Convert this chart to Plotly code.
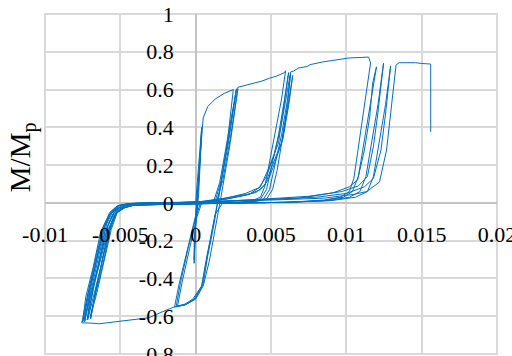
import plotly.graph_objects as go

# ---- data ----
# initial elastic cycles + virgin loading to first yield
elastic_x = [0.0, 0.0002, 0.0004, 0.0002, 0.0000, -0.0001, 0.0000, 0.0002, 0.0004, 0.0002, -0.0001, -0.0001, 0.0000, 0.0002,
             0.0005, 0.0008, 0.0013, 0.0019, 0.0025]
elastic_y = [0.0, 0.20, 0.40, 0.12, -0.05, -0.30, -0.12, 0.10, 0.38, 0.05, -0.20, -0.32, -0.10, 0.15,
             0.45, 0.51, 0.55, 0.58, 0.60]

# small cycles (about +0.0027 / -0.0013)
small_x = [0.0021, 0.0016, 0.00146, 0.0011, 0.0007, 0.0004, -0.0001, -0.0007, -0.0013,
           -0.0010, -0.0005, 0.0000, 0.0003, 0.0008, 0.0013, 0.0017, 0.0022, 0.0027,
           0.0022, 0.0016, 0.0012, 0.0008, 0.0005, 0.0000, -0.0006, -0.0012,
           -0.0009, -0.0004, 0.0001, 0.0004, 0.0009, 0.0014, 0.0018, 0.0023, 0.0028,
           0.0023, 0.0017, 0.0013, 0.0009, 0.0005, 0.0000, -0.0007, -0.0014,
           -0.0011, -0.0006, -0.0001, 0.0002, 0.0007, 0.0012, 0.0016, 0.0021, 0.0027]
small_y = [0.32, 0.06, 0.0, -0.14, -0.30, -0.44, -0.51, -0.54, -0.55,
           -0.42, -0.24, -0.08, -0.005, 0.005, 0.01, 0.12, 0.35, 0.60,
           0.33, 0.07, -0.12, -0.28, -0.43, -0.505, -0.535, -0.545,
           -0.42, -0.24, -0.07, 0.0, 0.006, 0.012, 0.12, 0.34, 0.605,
           0.32, 0.04, -0.14, -0.31, -0.44, -0.51, -0.54, -0.55,
           -0.43, -0.26, -0.09, 0.0, 0.005, 0.01, 0.11, 0.33, 0.60]

# first excursion to +0.006 along envelope, then first negative excursion along envelope
first_x = [0.0028, 0.0033, 0.0038, 0.0044, 0.0049, 0.0054, 0.0059, 0.00597,
           0.0057, 0.0053, 0.0049, 0.0046, 0.0043, 0.0037, 0.0028, 0.0018,
           0.0013, 0.0011, 0.0007, 0.0004, -0.0002, -0.0008, -0.0015, -0.0021, -0.0026,
           -0.0031, -0.0038, -0.0046, -0.0055, -0.0064, -0.0070, -0.00756]
first_y = [0.612, 0.622, 0.635, 0.645, 0.66, 0.672, 0.69, 0.70,
           0.55, 0.38, 0.20, 0.09, 0.03, 0.01, 0.003, 0.0,
           -0.06, -0.14, -0.32, -0.44, -0.51, -0.54, -0.553, -0.571, -0.59,
           -0.608, -0.615, -0.624, -0.632, -0.640, -0.636, -0.635]

# second +0.006 loop and its negative half
loop2_x = [-0.0071, -0.0066, -0.0061, -0.0057, -0.0052, -0.0045, -0.0030, -0.0010, 0.0005, 0.0023, 0.0036, 0.0043,
           0.0048, 0.0055, 0.0059, 0.00617,
           0.0059, 0.0055, 0.0050, 0.0047, 0.0043, 0.0035, 0.0020, 0.0000, -0.0025, -0.0040, -0.0047, -0.0053,
           -0.0058, -0.0064, -0.0070, -0.00737]
loop2_y = [-0.46, -0.28, -0.12, -0.05, -0.015, -0.004, 0.0, 0.002, 0.006, 0.03, 0.048, 0.085,
           0.175, 0.317, 0.53, 0.69,
           0.55, 0.36, 0.17, 0.07, 0.02, 0.005, 0.0, -0.003, -0.006, -0.01, -0.025, -0.055,
           -0.14, -0.33, -0.50, -0.63]

# third +0.006 loop
loop3_x = [-0.0070, -0.0065, -0.0060, -0.0056, -0.0051, -0.0044, -0.0028, 0.0000, 0.0015, 0.0030, 0.0040, 0.0046,
           0.0050, 0.0057, 0.0061, 0.0063,
           0.0061, 0.0057, 0.0052, 0.0049, 0.0045, 0.0036, 0.0020, 0.0000, -0.0025, -0.0042, -0.0049, -0.0054,
           -0.0058, -0.0063, -0.0068, -0.00717]
loop3_y = [-0.46, -0.28, -0.12, -0.05, -0.015, -0.004, 0.0, 0.002, 0.012, 0.035, 0.055, 0.095,
           0.18, 0.32, 0.52, 0.685,
           0.55, 0.36, 0.17, 0.07, 0.02, 0.004, 0.0, -0.004, -0.007, -0.012, -0.03, -0.06,
           -0.15, -0.34, -0.50, -0.62]

# fourth +0.006 loop
loop4_x = [-0.0068, -0.0063, -0.0058, -0.0054, -0.0049, -0.0042, -0.0025, 0.0000, 0.0020, 0.0035, 0.0043, 0.0048,
           0.0052, 0.0058, 0.0062, 0.00644,
           0.0062, 0.0058, 0.0054, 0.0051, 0.0047, 0.0038, 0.0020, 0.0000, -0.0025, -0.0041, -0.0048, -0.0053,
           -0.0057, -0.0062, -0.0067, -0.00697]
loop4_y = [-0.46, -0.28, -0.12, -0.05, -0.015, -0.004, 0.0, 0.003, 0.02, 0.045, 0.07, 0.12,
           0.20, 0.34, 0.53, 0.675,
           0.55, 0.36, 0.17, 0.07, 0.02, 0.004, 0.0, -0.004, -0.007, -0.011, -0.028, -0.058,
           -0.15, -0.34, -0.50, -0.614]

# loading beyond +0.006 along the upper envelope to +0.0115
env_x = [-0.0066, -0.0061, -0.0056, -0.0052, -0.0047, -0.0040, -0.0022, 0.0000, 0.0020, 0.0033, 0.0042, 0.0047,
         0.0052, 0.0057, 0.0061, 0.0063, 0.0065, 0.00683, 0.0074, 0.0076, 0.00843, 0.0092, 0.01015, 0.0110,
         0.01148, 0.01161,
         0.0112, 0.0108, 0.0105, 0.0102, 0.0096, 0.0085, 0.0065, 0.0040, 0.0010, -0.0020, -0.0040, -0.0047,
         -0.0052, -0.0056, -0.0061, -0.0066, -0.0070]
env_y = [-0.45, -0.27, -0.11, -0.045, -0.013, -0.003, 0.0, 0.004, 0.025, 0.05, 0.08, 0.14,
         0.25, 0.42, 0.60, 0.693, 0.698, 0.714, 0.722, 0.732, 0.746, 0.755, 0.767, 0.770,
         0.772, 0.741,
         0.52, 0.30, 0.13, 0.06, 0.03, 0.015, 0.005, 0.0, -0.004, -0.007, -0.01, -0.025,
         -0.05, -0.14, -0.32, -0.49, -0.605]

# loops to about +0.012 .. +0.013
big1_x = [-0.0066, -0.0061, -0.0056, -0.0052, -0.0047, -0.0040, -0.0020, 0.0010, 0.0040, 0.0069, 0.0091, 0.0102,
          0.01075, 0.0112, 0.01155, 0.01175, 0.0120,
          0.0116, 0.0112, 0.0108, 0.0104, 0.0098, 0.0085, 0.0060, 0.0030, 0.0000, -0.0025, -0.0043, -0.0050,
          -0.0055, -0.0060, -0.0065, -0.0070, -0.0072]
big1_y = [-0.45, -0.27, -0.11, -0.045, -0.013, -0.003, 0.0, 0.005, 0.015, 0.025, 0.053, 0.085,
          0.122, 0.28, 0.455, 0.635, 0.72,
          0.52, 0.32, 0.14, 0.06, 0.03, 0.012, 0.003, 0.0, -0.004, -0.008, -0.012, -0.03,
          -0.06, -0.15, -0.34, -0.50, -0.62]

big2_x = [-0.0068, -0.0063, -0.0058, -0.0054, -0.0049, -0.0042, -0.0020, 0.0010, 0.0045, 0.0075, 0.0097, 0.0108,
          0.0114, 0.0118, 0.0121, 0.0123, 0.01247,
          0.0121, 0.0117, 0.0113, 0.0109, 0.0102, 0.0088, 0.0060, 0.0030, 0.0000, -0.0025, -0.0045, -0.0052,
          -0.0057, -0.0062, -0.0067, -0.0072, -0.0074]
big2_y = [-0.45, -0.27, -0.11, -0.045, -0.013, -0.003, 0.0, 0.006, 0.02, 0.035, 0.06, 0.09,
          0.14, 0.30, 0.48, 0.64, 0.74,
          0.52, 0.32, 0.14, 0.06, 0.03, 0.012, 0.003, 0.0, -0.004, -0.008, -0.012, -0.03,
          -0.06, -0.15, -0.34, -0.50, -0.625]

big3_x = [-0.0069, -0.0064, -0.0059, -0.0055, -0.0050, -0.0043, -0.0020, 0.0010, 0.0050, 0.0080, 0.0100, 0.0112,
          0.0118, 0.0123, 0.0126, 0.0128, 0.01294,
          0.0126, 0.0122, 0.0118, 0.0114, 0.0106, 0.0090, 0.0060, 0.0030, 0.0000, -0.0025, -0.0045, -0.0052,
          -0.0057, -0.0063, -0.0068, -0.0073, -0.0075]
big3_y = [-0.45, -0.27, -0.11, -0.045, -0.013, -0.003, 0.0, 0.006, 0.02, 0.03, 0.05, 0.085,
          0.13, 0.28, 0.47, 0.63, 0.725,
          0.52, 0.32, 0.14, 0.06, 0.03, 0.012, 0.003, 0.0, -0.004, -0.008, -0.012, -0.03,
          -0.06, -0.15, -0.34, -0.50, -0.63]

# final loading to fracture
final_x = [-0.0070, -0.0065, -0.0060, -0.0056, -0.0051, -0.0044, -0.0020, 0.0010, 0.0050, 0.0085, 0.0105, 0.01135,
           0.0122, 0.01267, 0.0130, 0.0132, 0.0133, 0.0135, 0.0140, 0.0146, 0.0150, 0.01546, 0.0156, 0.0156]
final_y = [-0.45, -0.27, -0.11, -0.045, -0.013, -0.003, 0.0, 0.006, 0.015, 0.025, 0.045, 0.06,
           0.11, 0.28, 0.51, 0.66, 0.73, 0.742, 0.742, 0.742, 0.738, 0.735, 0.735, 0.376]

x_ticks = [-0.01, -0.005, 0, 0.005, 0.01, 0.015, 0.02]
x_labels = ["-0.01", "-0.005", "0", "0.005", "0.01", "0.015", "0.02"]
y_ticks = [-0.8, -0.6, -0.4, -0.2, 0, 0.2, 0.4, 0.6, 0.8, 1]
y_labels = ["-0.8", "-0.6", "-0.4", "-0.2", "0", "0.2", "0.4", "0.6", "0.8", "1"]
y_title = "M/M<sub>p</sub>"

xs = (elastic_x + small_x + first_x + loop2_x + loop3_x + loop4_x + env_x +
      big1_x + big2_x + big3_x + final_x)
ys = (elastic_y + small_y + first_y + loop2_y + loop3_y + loop4_y + env_y +
      big1_y + big2_y + big3_y + final_y)

X_MIN, X_MAX = -0.01, 0.02
Y_MIN, Y_MAX = -0.8, 1.0

fig = go.Figure()
fig.add_trace(go.Scatter(x=xs, y=ys, mode="lines",
                         line=dict(color="#0070C0", width=1), showlegend=False,
                         hoverinfo="skip"))
# empty trace so the label-only overlay axes are drawn
fig.add_trace(go.Scatter(x=[None], y=[None], xaxis="x2", yaxis="y2", mode="lines",
                         showlegend=False, hoverinfo="skip"))

font = dict(family="Liberation Serif, Times New Roman, serif", size=22, color="#000000")
grid = "#d9d9d9"

fig.update_layout(
    width=512, height=356,
    margin=dict(l=45, r=15, t=14, b=2, autoexpand=False),
    paper_bgcolor="white", plot_bgcolor="white",
    showlegend=False,
    xaxis=dict(range=[X_MIN, X_MAX], tickvals=x_ticks,
               showgrid=True, gridcolor=grid, gridwidth=2,
               zeroline=True, zerolinecolor="#c4c4c4", zerolinewidth=2,
               showline=False, ticks="", showticklabels=False, automargin=False,
               fixedrange=True),
    yaxis=dict(range=[Y_MIN, Y_MAX], tickvals=y_ticks,
               showgrid=True, gridcolor=grid, gridwidth=2,
               zeroline=True, zerolinecolor="#c4c4c4", zerolinewidth=2,
               showline=False, ticks="", showticklabels=False, automargin=False,
               fixedrange=True),
    xaxis2=dict(range=[X_MIN, X_MAX], tickvals=x_ticks, ticktext=x_labels,
                overlaying="x", anchor="free", position=(0 - Y_MIN) / (Y_MAX - Y_MIN),
                showgrid=False, zeroline=False, showline=False, ticks="",
                tickfont=font, automargin=False, ticklabelstandoff=16,
                ticklabeloverflow="allow", fixedrange=True),
    yaxis2=dict(range=[Y_MIN, Y_MAX], tickvals=y_ticks, ticktext=y_labels,
                overlaying="y", anchor="free", position=(0 - X_MIN) / (X_MAX - X_MIN),
                showgrid=False, zeroline=False, showline=False, ticks="",
                tickfont=font, automargin=False, ticklabelstandoff=22,
                ticklabeloverflow="allow", fixedrange=True),
    shapes=[dict(type="rect", xref="paper", yref="paper", x0=0, y0=0, x1=1, y1=1,
                 line=dict(color=grid, width=2), layer="below")],
    annotations=[dict(text=y_title, xref="paper", yref="paper",
                      x=-0.05, y=0.58, xanchor="center", yanchor="middle",
                      textangle=-90, showarrow=False,
                      font=dict(family="Liberation Serif, Times New Roman, serif", size=29, color="#000000"))],
)

fig.write_html("out.html", config={"displayModeBar": False},
               post_script="document.body.style.margin='0px';")
